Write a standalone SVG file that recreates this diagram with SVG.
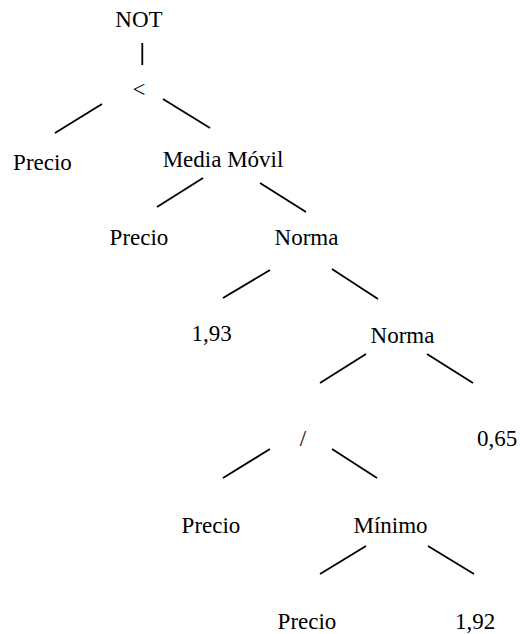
<svg xmlns="http://www.w3.org/2000/svg" width="520" height="634" viewBox="0 0 520 634">
<style>
text{font-family:"Liberation Serif","DejaVu Serif",serif;font-size:23px;fill:#000;text-anchor:middle}
line{stroke:#000;stroke-width:1.8;stroke-linecap:butt}
</style>
<rect width="520" height="634" fill="#fff"/>
<g id="connectors">
<line x1="142.3" y1="43" x2="142.3" y2="65"/>
<line x1="102" y1="104" x2="55" y2="133"/>
<line x1="163" y1="99" x2="210" y2="128"/>
<line x1="203" y1="178" x2="157" y2="207"/>
<line x1="260" y1="183" x2="306" y2="212"/>
<line x1="270" y1="270" x2="223" y2="298"/>
<line x1="332" y1="269" x2="378" y2="299"/>
<line x1="366" y1="354" x2="320" y2="383"/>
<line x1="427" y1="354" x2="473" y2="383"/>
<line x1="270" y1="449" x2="223" y2="478"/>
<line x1="332" y1="449" x2="377" y2="478"/>
<line x1="366" y1="546" x2="320" y2="574"/>
<line x1="428" y1="546" x2="474" y2="574"/>
</g>
<g id="n_not"><text x="139" y="27">NOT</text></g>
<g id="n_lt"><text x="139" y="97">&lt;</text></g>
<g id="n_precio1"><text x="42.5" y="170">Precio</text></g>
<g id="n_media"><text x="223" y="167">Media Móvil</text></g>
<g id="n_precio2"><text x="139" y="245">Precio</text></g>
<g id="n_norma1"><text x="306.5" y="245">Norma</text></g>
<g id="n_193"><text x="211.5" y="341">1,93</text></g>
<g id="n_norma2"><text x="402.5" y="343">Norma</text></g>
<g id="n_div"><text x="303" y="446">/</text></g>
<g id="n_065"><text x="497" y="446">0,65</text></g>
<g id="n_precio3"><text x="211" y="533">Precio</text></g>
<g id="n_minimo"><text x="390.5" y="533">Mínimo</text></g>
<g id="n_precio4"><text x="307" y="629">Precio</text></g>
<g id="n_192"><text x="475" y="629">1,92</text></g>
</svg>
